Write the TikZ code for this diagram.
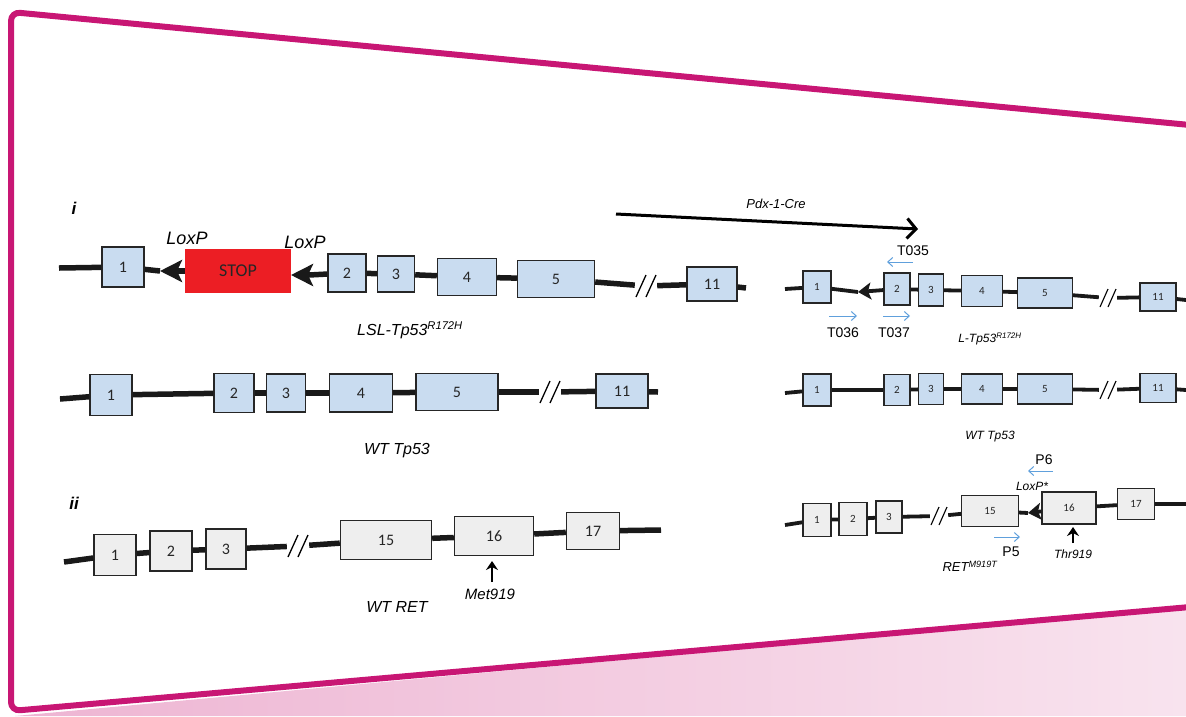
\documentclass[tikz,border=0pt]{standalone}
\usepackage{fontspec}
\setmainfont{Liberation Sans}
\newfontfamily\exonfont{Carlito}
\usetikzlibrary{arrows.meta,positioning,calc}
\definecolor{framepink}{RGB}{200,22,116}
\definecolor{tpblue}{RGB}{201,220,240}
\definecolor{retgrey}{RGB}{238,238,238}
\definecolor{stopred}{RGB}{236,30,36}
\definecolor{primerblue}{RGB}{96,160,220}

\begin{document}
\begin{tikzpicture}[
            x=1pt,
            y=-1pt,
            >=Stealth,
            exon/.style={
                draw=black!85,
                fill=tpblue,
                line width=1.4pt,
                inner sep=0pt,
                text=black!85,
                font=\exonfont\fontsize{16}{16}\selectfont
            },
            retexon/.style={
                exon,
                fill=retgrey
            },
            smallexon/.style={
                line width=1.1pt,
                font=\exonfont\fontsize{11}{11}\selectfont
            },
            exsize/.style 2 args={
                minimum width=#1,
                minimum height=#2
            },
            dna/.style={
                line width=5.5pt,
                black!90
            },
            thindna/.style={
                line width=3.8pt,
                black!90
            },
            lox/.style={
                -{Stealth[length=22pt,width=22pt,inset=5pt]}
            },
            smalllox/.style={
                -{Stealth[length=13pt,width=17pt,inset=3pt]}
            },
            brk/.style={
                inner sep=0pt,
                minimum width=22pt,
                minimum height=2pt
            },
            primer/.style={
                ->,
                >={Straight Barb[length=5pt,width=9pt]},
                primerblue,
                line width=1pt
            },
            site/.style={
                ->,
                >={Stealth[length=9pt,width=12pt,inset=3pt]},
                line width=2.4pt
            },
            genelabel/.style={
                font=\itshape\fontsize{16}{16}\selectfont
            },
            smalllabel/.style={
                font=\itshape\fontsize{12}{12}\selectfont
            },
            primerlabel/.style={
                font=\fontsize{14}{14}\selectfont
            },
            dslash/.pic={
                \draw[line width=1.3pt] (-10,11) -- (0,-11) (0,11) -- (10,-11);
            },
            smallslash/.pic={
                \draw[line width=1.1pt] (-8,9) -- (0,-9) (0,9) -- (8,-9);
            }
            ]

            \useasboundingbox (0,0) rectangle (1186,716);

            % pink band below the frame
            \shade[left color=framepink!32, right color=framepink!12]
            (15,716) -- (1186,608) -- (1186,716) -- cycle;

            % frame
            \draw[framepink, line width=6pt, rounded corners=9pt]
            (1190,125) -- (11,12) -- (11,711) -- (1190,607);

            % ---------- i: LSL-Tp53 ----------
            \node[font=\bfseries\itshape\fontsize{17}{17}\selectfont] (parti) at (74,208) {i};

            \coordinate (lslStart) at (59,268);
            \node[exon, exsize={42pt}{40pt}] (lsl1) at (123,267) {1};
            \node[fill=stopred, minimum width=106pt, minimum height=44pt,
                font=\exonfont\fontsize{18}{18}\selectfont, text=black!85] (stop) at (238,271) {STOP};
            \coordinate (loxA) at (160,271);
            \coordinate (loxB) at (291,275);
            \node[exon, exsize={38pt}{38pt}] (lsl2) at (347,273) {2};
            \node[exon, exsize={37pt}{36pt}] (lsl3) at (396,274) {3};
            \node[exon, exsize={59pt}{37pt}] (lsl4) at (467,277) {4};
            \node[exon, exsize={77pt}{37pt}] (lsl5) at (556,279) {5};
            \node[brk] (lslBrk) at (646,286) {};
            \node[exon, exsize={50pt}{34pt}] (lsl11) at (712,284) {11};
            \coordinate (lslEnd) at (746,288);

            \node[font=\itshape\fontsize{18}{18}\selectfont] (loxLabA) at (187,238) {LoxP};
            \node[font=\itshape\fontsize{18}{18}\selectfont] (loxLabB) at (305,242) {LoxP};
            \node[genelabel] (lslLab) at (410,330) {LSL-Tp53\textsuperscript{R172H}};

            \draw[dna] (lslStart) -- (lsl1);
            \draw[dna] (lsl1) -- (loxA);
            \draw[dna, lox] (stop) -- (loxA);
            \draw[dna] (lsl2) -- ($(loxB)+(18,0)$);
            \draw[dna, lox] ($(loxB)+(18,0)$) -- (loxB);
            \draw[dna] (lsl2) -- (lsl3);
            \draw[dna] (lsl3) -- (lsl4);
            \draw[dna] (lsl4) -- (lsl5);
            \draw[dna] (lsl5) -- (lslBrk);
            \draw[dna] (lslBrk) -- (lsl11);
            \draw[dna] (lsl11) -- (lslEnd);
            \pic at (lslBrk) {dslash};

            % ---------- WT Tp53 ----------
            \coordinate (wtStart) at (60,399);
            \node[exon, exsize={42pt}{41pt}] (wt1) at (111,395) {1};
            \node[exon, exsize={40pt}{39pt}] (wt2) at (234,393) {2};
            \node[exon, exsize={39pt}{38pt}] (wt3) at (286,393) {3};
            \node[exon, exsize={63pt}{38pt}] (wt4) at (361,393) {4};
            \node[exon, exsize={82pt}{37pt}] (wt5) at (457,392) {5};
            \node[brk] (wtBrk) at (550,392) {};
            \node[exon, exsize={52pt}{34pt}] (wt11) at (622,391) {11};
            \coordinate (wtEnd) at (658,392);
            \node[genelabel] (wtLab) at (397,451) {WT Tp53};

            \draw[dna] (wtStart) -- (wt1);
            \draw[dna] (wt1) -- (wt2);
            \draw[dna] (wt2) -- (wt3);
            \draw[dna] (wt3) -- (wt4);
            \draw[dna] (wt4) -- (wt5);
            \draw[dna] (wt5) -- (wtBrk);
            \draw[dna] (wtBrk) -- (wt11);
            \draw[dna] (wt11) -- (wtEnd);
            \pic at (wtBrk) {dslash};

            % ---------- ii: WT RET ----------
            \node[font=\bfseries\itshape\fontsize{17}{17}\selectfont] (partii) at (74,503) {ii};

            \coordinate (retStart) at (64,562);
            \node[retexon, exsize={42pt}{41pt}] (ret1) at (115,555) {1};
            \node[retexon, exsize={42pt}{40pt}] (ret2) at (171,551) {2};
            \node[retexon, exsize={40pt}{40pt}] (ret3) at (226,549) {3};
            \node[brk] (retBrk) at (298,546) {};
            \node[retexon, exsize={91pt}{39pt}] (ret15) at (386,540) {15};
            \node[retexon, exsize={79pt}{39pt}] (ret16) at (494,536) {16};
            \node[retexon, exsize={53pt}{37pt}] (ret17) at (593,531) {17};
            \coordinate (retEnd) at (661,530);

            \draw[dna] (retStart) -- (ret1);
            \draw[dna] (ret1) -- (ret2);
            \draw[dna] (ret2) -- (ret3);
            \draw[dna] (ret3) -- (retBrk);
            \draw[dna] (retBrk) -- (ret15);
            \draw[dna] (ret15) -- (ret16);
            \draw[dna] (ret16) -- (ret17);
            \draw[dna] (ret17) -- (retEnd);
            \pic at (retBrk) {dslash};

            \coordinate (metTail) at (492,582);
            \coordinate (metHead) at (492,561);
            \draw[site] (metTail) -- (metHead);
            \node[font=\itshape\fontsize{15}{15}\selectfont] (metLab) at (490,594) {Met919};
            \node[genelabel] (retLab) at (397,607) {WT RET};

            % ---------- Pdx-1-Cre ----------
            \coordinate (creStart) at (616,214);
            \coordinate (creEnd) at (918,229);
            \draw[line width=3pt, -{Straight Barb[length=9pt,width=20pt]}] (creStart) -- (creEnd);
            \node[font=\itshape\fontsize{13}{13}\selectfont] (creLab) at (776,204) {Pdx-1-Cre};

            % ---------- L-Tp53 (recombined) ----------
            \coordinate (lStart) at (785,289);
            \node[exon, smallexon, exsize={28pt}{32pt}] (l1) at (817,287) {1};
            \coordinate (loxC) at (858,292);
            \node[exon, smallexon, exsize={26pt}{32pt}] (l2) at (897,289) {2};
            \node[exon, smallexon, exsize={25pt}{32pt}] (l3) at (931,290) {3};
            \node[exon, smallexon, exsize={41pt}{31pt}] (l4) at (982,291) {4};
            \node[exon, smallexon, exsize={55pt}{30pt}] (l5) at (1045,293) {5};
            \node[brk, minimum width=18pt] (lBrk) at (1108,298) {};
            \node[exon, smallexon, exsize={36pt}{28pt}] (l11) at (1158,297) {11};
            \coordinate (lEnd) at (1186,300);

            \draw[thindna] (lStart) -- (l1);
            \draw[thindna] (l1) -- (loxC);
            \draw[thindna, smalllox] (l2) -- (loxC);
            \draw[thindna] (l2) -- (l3);
            \draw[thindna] (l3) -- (l4);
            \draw[thindna] (l4) -- (l5);
            \draw[thindna] (l5) -- (lBrk);
            \draw[thindna] (lBrk) -- (l11);
            \draw[thindna] (l11) -- (lEnd);
            \pic at (lBrk) {smallslash};

            \coordinate (t035Tail) at (913,262);
            \coordinate (t035Head) at (887,262);
            \draw[primer] (t035Tail) -- (t035Head);
            \node[primerlabel] (t035) at (913,251) {T035};
            \coordinate (t036Tail) at (829,316);
            \coordinate (t036Head) at (857,316);
            \draw[primer] (t036Tail) -- (t036Head);
            \node[primerlabel] (t036) at (843,333) {T036};
            \coordinate (t037Tail) at (883,316);
            \coordinate (t037Head) at (910,316);
            \draw[primer] (t037Tail) -- (t037Head);
            \node[primerlabel] (t037) at (894,333) {T037};
            \node[smalllabel] (lLab) at (990,339) {L-Tp53\textsuperscript{R172H}};

            % ---------- WT Tp53 (right) ----------
            \coordinate (rwStart) at (785,393);
            \node[exon, smallexon, exsize={28pt}{32pt}] (rw1) at (817,390) {1};
            \node[exon, smallexon, exsize={26pt}{31pt}] (rw2) at (897,390) {2};
            \node[exon, smallexon, exsize={25pt}{31pt}] (rw3) at (931,389) {3};
            \node[exon, smallexon, exsize={41pt}{30pt}] (rw4) at (982,389) {4};
            \node[exon, smallexon, exsize={55pt}{30pt}] (rw5) at (1045,389) {5};
            \node[brk, minimum width=18pt] (rwBrk) at (1108,390) {};
            \node[exon, smallexon, exsize={36pt}{29pt}] (rw11) at (1158,388) {11};
            \coordinate (rwEnd) at (1186,390);

            \draw[thindna] (rwStart) -- (rw1);
            \draw[thindna] (rw1) -- (rw2);
            \draw[thindna] (rw2) -- (rw3);
            \draw[thindna] (rw3) -- (rw4);
            \draw[thindna] (rw4) -- (rw5);
            \draw[thindna] (rw5) -- (rwBrk);
            \draw[thindna] (rwBrk) -- (rw11);
            \draw[thindna] (rw11) -- (rwEnd);
            \pic at (rwBrk) {smallslash};
            \node[smalllabel] (rwLab) at (990,437) {WT Tp53};

            % ---------- RET M919T (right) ----------
            \coordinate (mStart) at (785,525);
            \node[retexon, smallexon, exsize={28pt}{33pt}] (m1) at (817,520) {1};
            \node[retexon, smallexon, exsize={28pt}{33pt}] (m2) at (853,519) {2};
            \node[retexon, smallexon, exsize={26pt}{32pt}] (m3) at (889,517) {3};
            \node[brk, minimum width=18pt] (mBrk) at (939,516) {};
            \node[retexon, smallexon, exsize={57pt}{31pt}] (m15) at (990,511) {15};
            \coordinate (loxD) at (1028,513);
            \node[retexon, smallexon, exsize={54pt}{32pt}] (m16) at (1069,508) {16};
            \node[retexon, smallexon, exsize={37pt}{31pt}] (m17) at (1136,504) {17};
            \coordinate (mEnd) at (1186,504);

            \draw[thindna] (mStart) -- (m1);
            \draw[thindna] (m1) -- (m2);
            \draw[thindna] (m2) -- (m3);
            \draw[thindna] (m3) -- (mBrk);
            \draw[thindna] (mBrk) -- (m15);
            \draw[thindna] (m15) -- (loxD);
            \draw[thindna, smalllox] (m16) -- (loxD);
            \draw[thindna] (m16) -- (m17);
            \draw[thindna] (m17) -- (mEnd);
            \pic at (mBrk) {smallslash};

            \coordinate (p6Tail) at (1053,471);
            \coordinate (p6Head) at (1028,471);
            \draw[primer] (p6Tail) -- (p6Head);
            \node[primerlabel] (p6) at (1044,460) {P6};
            \node[font=\itshape\fontsize{12}{12}\selectfont] (loxLabC) at (1032,486) {LoxP*};
            \coordinate (p5Tail) at (994,537);
            \coordinate (p5Head) at (1020,537);
            \draw[primer] (p5Tail) -- (p5Head);
            \node[primerlabel] (p5) at (1011,552) {P5};
            \node[font=\itshape\fontsize{13}{13}\selectfont] (mLab) at (970,566) {RET\textsuperscript{M919T}};
            \coordinate (thrTail) at (1073,543);
            \coordinate (thrHead) at (1073,527);
            \draw[site, line width=1.8pt] (thrTail) -- (thrHead);
            \node[smalllabel] (thrLab) at (1073,554) {Thr919};

        \end{tikzpicture}
\end{document}
